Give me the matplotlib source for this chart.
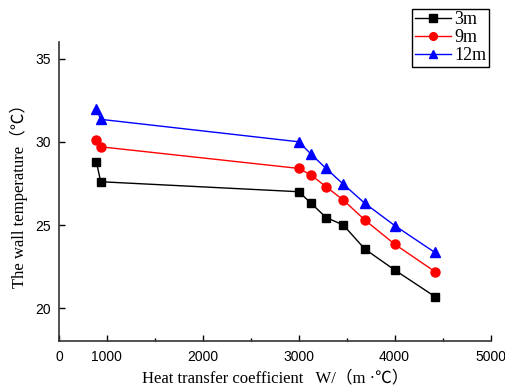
import numpy as np
import matplotlib
matplotlib.use('Agg')
import matplotlib.pyplot as plt
from matplotlib.ticker import FixedLocator

plt.rcParams['font.family'] = ['Liberation Sans', 'DejaVu Sans']

# data
h_coef = [890, 935, 3000, 3130, 3285, 3465, 3690, 4000, 4420]
t_3m = [28.8, 27.6, 27.0, 26.3, 25.45, 25.0, 23.55, 22.3, 20.7]
t_9m = [30.1, 29.7, 28.4, 28.0, 27.3, 26.5, 25.3, 23.85, 22.2]
t_12m = [31.95, 31.35, 30.0, 29.25, 28.4, 27.45, 26.3, 24.97, 23.35]
series_names = ['3m', '9m', '12m']

x_ticks = [500, 1000, 2000, 3000, 4000, 5000]
x_ticklabels = ['0', '1000', '2000', '3000', '4000', '5000']
y_ticks = [20, 25, 30, 35]

serif = ['Liberation Serif', 'Noto Sans CJK SC', 'DejaVu Sans']

fig = plt.figure(figsize=(5.05, 3.87), dpi=100)
ax = fig.add_axes([0.1168, 0.1176, 0.8545, 0.774])

ax.plot(h_coef, t_3m, color='black', lw=1, marker='s', ms=6, label=series_names[0])
ax.plot(h_coef, t_9m, color='red', lw=1, marker='o', ms=6.5, label=series_names[1])
ax.plot(h_coef, t_12m, color='blue', lw=1, marker='^', ms=7, label=series_names[2])

ax.set_xlim(500, 5000)
ax.set_ylim(18, 36)
ax.set_xticks(x_ticks)
ax.set_xticklabels(x_ticklabels)
ax.xaxis.set_minor_locator(FixedLocator([1500, 2500, 3500, 4500]))
ax.set_yticks(y_ticks)

for s in ['top', 'right']:
    ax.spines[s].set_visible(False)
for s in ['left', 'bottom']:
    ax.spines[s].set_linewidth(1.2)
    ax.spines[s].set_color('#333333')

ax.tick_params(which='major', direction='in', length=4, width=1, labelsize=10, pad=6)
ax.tick_params(which='minor', direction='in', length=2, width=1)

ax.set_xlabel('Heat transfer coefficient   W/（m ·℃）', family=serif, fontsize=12, labelpad=5)
ax.set_ylabel('The wall temperature（℃）', family=serif, fontsize=12, labelpad=5)

leg = fig.legend(loc='upper right', bbox_to_anchor=(0.969, 0.978),
                 prop={'family': serif, 'size': 13}, fancybox=False,
                 edgecolor='black', framealpha=1, handlelength=2.0,
                 borderpad=0.15, labelspacing=0.05, handletextpad=0.2,
                 borderaxespad=0, markerscale=0.85)
leg.get_frame().set_linewidth(1)

fig.savefig('out.png', dpi=100)
